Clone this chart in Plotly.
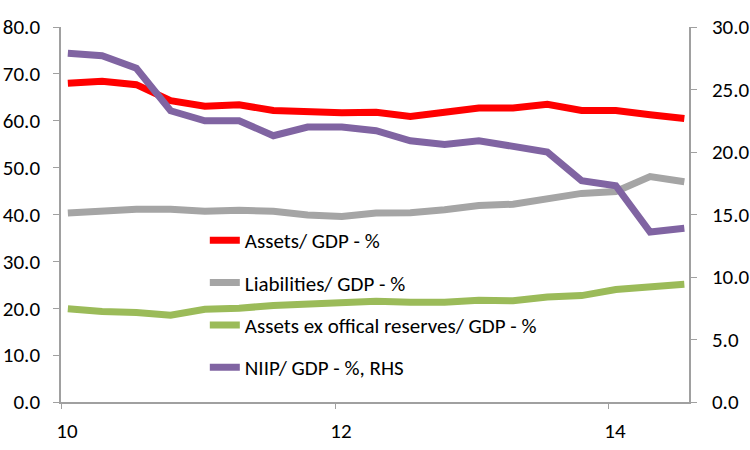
import plotly.graph_objects as go

# quarterly observations, x in years since 2000 (labels "10", "12", "14")
QUARTERS = [10.05, 10.30, 10.55, 10.80, 11.05, 11.30, 11.55, 11.80, 12.05, 12.30,
            12.55, 12.80, 13.05, 13.30, 13.55, 13.80, 14.05, 14.30, 14.55]

ASSETS = [68.0, 68.4, 67.7, 64.3, 63.1, 63.4, 62.2, 61.9, 61.7, 61.8,
          60.9, 61.8, 62.7, 62.7, 63.5, 62.2, 62.2, 61.3, 60.5]
LIABILITIES = [40.3, 40.7, 41.1, 41.1, 40.7, 40.9, 40.7, 39.9, 39.6, 40.3,
               40.4, 41.0, 41.9, 42.2, 43.2, 44.5, 44.9, 48.1, 47.0]
ASSETS_EX_RES = [19.9, 19.3, 19.1, 18.5, 19.8, 20.0, 20.6, 20.9, 21.4, 21.5,
                 21.3, 21.3, 21.7, 21.6, 22.4, 22.7, 24.0, 24.7, 25.1]
NIIP = [27.9, 27.7, 26.7, 23.3, 22.5, 22.5, 21.3, 22.0, 22.0, 21.7,
        20.9, 20.6, 20.9, 20.4, 20.0, 17.7, 17.3, 13.6, 13.9]

X_TICKS = [10, 12, 14]
X_LABELS = ["10", "12", "14"]

FONT = "Carlito, Lato, sans-serif"
AXIS_GREY = "#a0a0a0"

series = [
    ("Assets/ GDP - %", ASSETS, "#ff0000", "y"),
    ("Liabilities/ GDP - %", LIABILITIES, "#a5a5a5", "y"),
    ("Assets ex offical reserves/ GDP - %", ASSETS_EX_RES, "#9bbb59", "y"),
    ("NIIP/ GDP - %, RHS", NIIP, "#8064a2", "y2"),
]

fig = go.Figure()
for i, (name, vals, col, ax) in enumerate(series):
    fig.add_trace(
        go.Scatter(
            x=QUARTERS,
            y=vals,
            name=name,
            mode="lines",
            yaxis=ax,
            legendgroup=str(i),
            line=dict(color=col, width=7),
        )
    )

fig.update_layout(
    width=750,
    height=450,
    margin=dict(l=61, r=61, t=27, b=48, autoexpand=False),
    paper_bgcolor="white",
    plot_bgcolor="white",
    font=dict(family=FONT, size=21, color="black"),
    showlegend=True,
    legend=dict(
        x=0.229,
        y=0.485,
        xanchor="left",
        yanchor="top",
        bgcolor="rgba(0,0,0,0)",
        font=dict(size=21),
        tracegroupgap=12,
        itemwidth=30,
    ),
    xaxis=dict(
        range=[10, 14.584],
        tickvals=X_TICKS,
        ticktext=X_LABELS,
        ticks="outside",
        ticklen=5,
        tickcolor=AXIS_GREY,
        ticklabelshift=6,
        ticklabelstandoff=4,
        showline=True,
        linecolor=AXIS_GREY,
        linewidth=1.5,
        showgrid=False,
        zeroline=False,
        tickfont=dict(size=21),
    ),
    yaxis=dict(
        range=[0, 80],
        dtick=10,
        tickformat=".1f",
        ticks="outside",
        ticklen=6,
        tickcolor=AXIS_GREY,
        ticklabelstandoff=9,
        showline=True,
        linecolor=AXIS_GREY,
        linewidth=1.5,
        showgrid=False,
        zeroline=False,
        tickfont=dict(size=21),
    ),
    yaxis2=dict(
        range=[0, 30],
        dtick=5,
        tickformat=".1f",
        overlaying="y",
        side="right",
        ticks="outside",
        ticklen=6,
        tickcolor=AXIS_GREY,
        ticklabelstandoff=11,
        showline=True,
        linecolor=AXIS_GREY,
        linewidth=1.5,
        showgrid=False,
        zeroline=False,
        tickfont=dict(size=21),
    ),
)

# drop the browser's default 8px body margin so the figure sits at the page corner
fig.write_html(
    "out.html",
    config={"displayModeBar": False},
    post_script="document.body.style.margin = '0';",
)
